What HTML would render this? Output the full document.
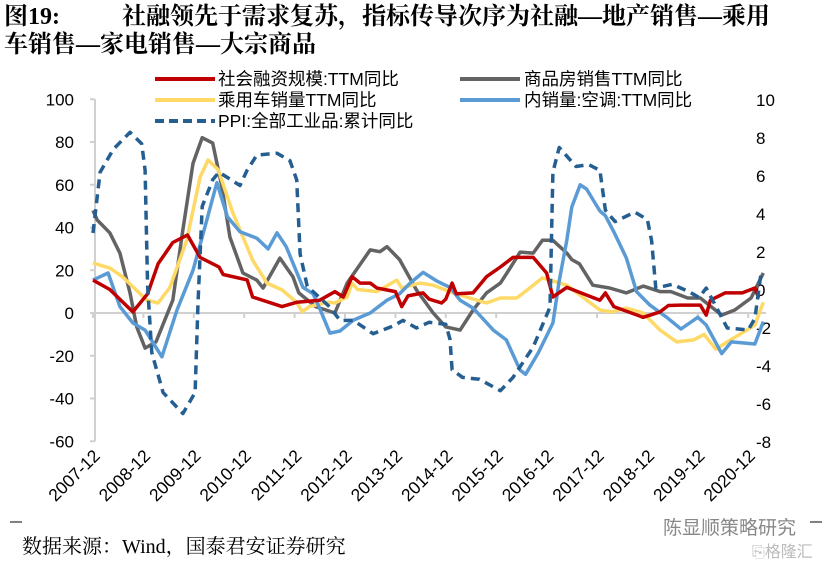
<!DOCTYPE html>
<html><head><meta charset="utf-8">
<style>
body{margin:0;background:#fff;width:829px;height:563px;overflow:hidden;font-family:"Liberation Sans","Noto Sans CJK SC",sans-serif}
svg{position:absolute;left:0;top:0}
</style></head>
<body>
<svg id="chart" width="829" height="563" xmlns="http://www.w3.org/2000/svg">
<text x="4" y="24" font-family="Liberation Serif, Noto Serif CJK SC, serif" font-weight="bold" font-size="24" fill="#000">图19:<tspan x="122">社融领先于需求复苏，指标传导次序为社融—地产销售—乘用</tspan></text>
<text x="4" y="52" font-family="Liberation Serif, Noto Serif CJK SC, serif" font-weight="bold" font-size="24" fill="#000">车销售—家电销售—大宗商品</text>
<g id="axes"></g>
<g id="series"></g>
<g font-size="17.5" fill="#000">
 <line x1="155" y1="79" x2="215" y2="79" stroke="#C00000" stroke-width="4"/><text x="218" y="85">社会融资规模:TTM同比</text>
 <line x1="460" y1="79" x2="520" y2="79" stroke="#636363" stroke-width="4"/><text x="524" y="85">商品房销售TTM同比</text>
 <line x1="155" y1="100" x2="215" y2="100" stroke="#FFD966" stroke-width="4"/><text x="218" y="106">乘用车销量TTM同比</text>
 <line x1="460" y1="100" x2="520" y2="100" stroke="#5B9BD5" stroke-width="4"/><text x="524" y="106">内销量:空调:TTM同比</text>
 <line x1="155" y1="121" x2="215" y2="121" stroke="#255E91" stroke-width="4" stroke-dasharray="9,5"/><text x="218" y="127">PPI:全部工业品:累计同比</text>
</g>
<line x1="10" y1="522" x2="22" y2="522" stroke="#000" stroke-width="1"/>
<line x1="810" y1="522" x2="822" y2="522" stroke="#000" stroke-width="1"/>
<text x="22" y="553" font-family="Liberation Serif, Noto Serif CJK SC, serif" font-size="20" fill="#000">数据来源：Wind，国泰君安证券研究</text>
<text x="663" y="534" font-size="19" fill="#888">陈显顺策略研究</text>
<text x="752" y="557" font-size="16" fill="#bbb">⎘格隆汇</text>
</svg>
<script>
const yearLabels=["2007-12","2008-12","2009-12","2010-12","2011-12","2012-12","2013-12","2014-12","2015-12","2016-12","2017-12","2018-12","2019-12","2020-12"];
const leftTicks=[100,80,60,40,20,0,-20,-40,-60];
const rightTicks=[10,8,6,4,2,0,-2,-4,-6,-8];
// month index from 2007-12
const redM=[0,4,9.5,13,15.5,19,22.5,25.5,30,31,36.7,38,45,48.5,54,57.6,59.6,61.7,63.6,66,67.6,72,73.5,75,78.6,80,83,84,85.5,86.5,90.5,93.7,97,100,104.8,108,109.5,112.8,120.7,122,124,131,135,137,140,144.6,146,147,150.5,154.6,157.6,158.5];
const redV=[15.4,11,0.5,9,23,33,36.5,26,21.5,18,15.5,7.5,3,5,6,10,7.5,17,14,14,11.7,10,3,8,9.4,6.5,4.7,6.5,14,9,9.4,17,21.5,26,26,18.7,7.5,12,6,9.4,3,-2,0.5,3.5,3.7,3.7,-1,6,9.4,9.4,11.7,7];
const grayM=[0,1,4,6.4,8.8,10.4,12.4,15,19,21.4,23.8,26,28.5,30.7,32.6,35.7,39,40.5,44.5,47.6,49,53,57.6,60.5,66,68.3,70,73,77,81,84,87.4,90.5,93.7,97,99.3,101.7,104.8,107,109.5,112.8,114,115.8,119,123,127,131,135,137.6,141.6,144.6,149.7,152.8,156.7,159.6];
const grayV=[48,43.5,37.5,28,9.4,-6.5,-16.4,-13.5,6,39,70,82,79.5,59,35.5,18.7,15.4,11.7,25.7,17,9.4,3,0,14,29.5,28.7,31,25,10.8,0,-6.5,-8,1.4,9.4,14,21,28.5,28,34,34,28,25,23,13,11.7,9.4,12.6,10,10,7,7,-1,1.4,7,18.7];
const yellowM=[0,4,7,12.8,15.5,18.3,22.3,25.5,27.4,29.8,33.3,38,41.4,45,48.5,49.8,51.5,56,57.6,60.5,61.7,63,67.6,72.3,73.5,77.9,81,85.8,89.7,93.7,97,100.9,104,107,109.5,112.8,115.9,120.7,123.5,127,131,135,139,143,145.5,148.3,151,154,157.6,159.6];
const yellowV=[23.4,21,17,6,4.7,12,34,63.6,71.6,67,46.8,24.8,14,10.8,5,0.5,3,5,4.7,7.5,14,11,10,15.4,11.7,14,13,9.4,7,4.7,7,7,11.7,16.4,15,13,8.4,1.4,0.5,2.3,0,-8,-13.5,-12.6,-10,-17,-13.5,-10,-5.6,5];
const blueM=[0,3.6,6.4,9.5,12.4,16.4,20,23.8,26,29.5,32,35,39,41.7,43.8,46,50,52.4,54,56.4,58.8,62,66,70,73,75.5,78.6,81.8,85,87.4,90.5,95.3,98.4,101.7,103,106,109.5,111,112.8,114,116,117.5,120.7,122,124,127,129.4,132.6,136.6,140,144,146,149.7,152,157.6,159.6];
const blueV=[15.4,18.7,3,-4.7,-8,-20.5,1.4,20,35.5,61,45,38,35,30,37.5,31,12,9,2,-9.4,-8.4,-3.3,0,6,9,14,19,15,12,6,2.3,-8,-12.6,-26.7,-28.7,-18.7,-4.7,15,34,49.6,60,58,47.7,45.5,38,25.7,10,3.7,-2,-7.5,-2,-5.6,-19,-13.5,-14.5,-4];
const ppiM=[0,1.7,4.8,8.8,11.6,12.4,13,14,16.7,21.4,24.3,25,26,28.5,30,35,36.7,39,43.8,46.9,48.5,49.3,51,56.4,58.8,62,66.7,71.4,73.8,77,80,84,85,85.5,88,92,97,100,104.8,108.8,109.5,111,115,118,120.7,122,124.3,129,132,133,134,137.9,142,144.3,146,147.7,151,156,157.6,159];
const ppiV=[3,6.2,7.4,8.3,7.7,6.3,0.2,-3.3,-5.4,-6.5,-5.4,-0.7,4.4,5.8,6.2,5.5,6.3,7.1,7.2,6.8,5.8,1.9,0.2,-0.9,-1.6,-1.6,-2.3,-1.9,-1.6,-2,-1.7,-1.8,-2.6,-4.2,-4.6,-4.7,-5.3,-4.6,-3,-0.9,6.2,7.5,6.5,6.6,6.3,4.2,3.6,4.1,3.7,2.6,0.1,0.3,-0.1,-0.4,0.1,-0.6,-2,-2.1,-1.5,0.8];

const NS="http://www.w3.org/2000/svg";
const X=m=>93+m*4.2;
const YL=v=>313-v*2.1375;
const YR=v=>290-v*19;
function mk(tag,attrs,parent){const e=document.createElementNS(NS,tag);for(const k in attrs)e.setAttribute(k,attrs[k]);parent.appendChild(e);return e;}
const axes=document.getElementById('axes'),ser=document.getElementById('series');
const ya=mk('line',{x1:95,y1:YL(100),x2:95,y2:YL(-60),stroke:'#d0d0d0','stroke-width':2},axes);


leftTicks.forEach(v=>{
 const t=mk('line',{x1:90,y1:YL(v),x2:95,y2:YL(v),stroke:'#d0d0d0','stroke-width':2},axes);
 
 
 const l=mk('text',{x:74,y:YL(v)+6,'text-anchor':'end','font-size':17,fill:'#000'},axes);l.textContent=v;
 
 
});
rightTicks.forEach(v=>{
 const l=mk('text',{x:756,y:YR(v)+6,'text-anchor':'start','font-size':17,fill:'#000'},axes);l.textContent=v;
 
 
});
const zl=mk('line',{x1:95,y1:YL(0),x2:766,y2:YL(0),stroke:'#d0d0d0','stroke-width':2},axes);


yearLabels.forEach((s,i)=>{
 const x=X(i*12);
 const t=mk('line',{x1:x,y1:YL(0),x2:x,y2:YL(0)+5,stroke:'#d0d0d0','stroke-width':2},axes);
 
 
 const l=mk('text',{x:x+8,y:457,'text-anchor':'end','font-size':17.5,fill:'#000',transform:`rotate(-45 ${x+8} 457)`},axes);l.textContent=s;
 
 
});
function line(ms,vs,yf,color,name,dash){
 const d=ms.map((m,i)=>(i?'L':'M')+X(m).toFixed(1)+','+yf(vs[i]).toFixed(1)).join('');
 const p=mk('path',{d:d,fill:'none',stroke:color,'stroke-width':3.5,'stroke-linejoin':'round'},ser);
 if(dash)p.setAttribute('stroke-dasharray','9,6');
 
 
}
line(grayM,grayV,YL,'#636363','series-housing-sales');
line(yellowM,yellowV,YL,'#FFD966','series-car-sales');
line(blueM,blueV,YL,'#5B9BD5','series-ac-sales');
line(redM,redV,YL,'#C00000','series-social-financing');
line(ppiM,ppiV,YR,'#255E91','series-ppi',true);
</script>
</body></html>
